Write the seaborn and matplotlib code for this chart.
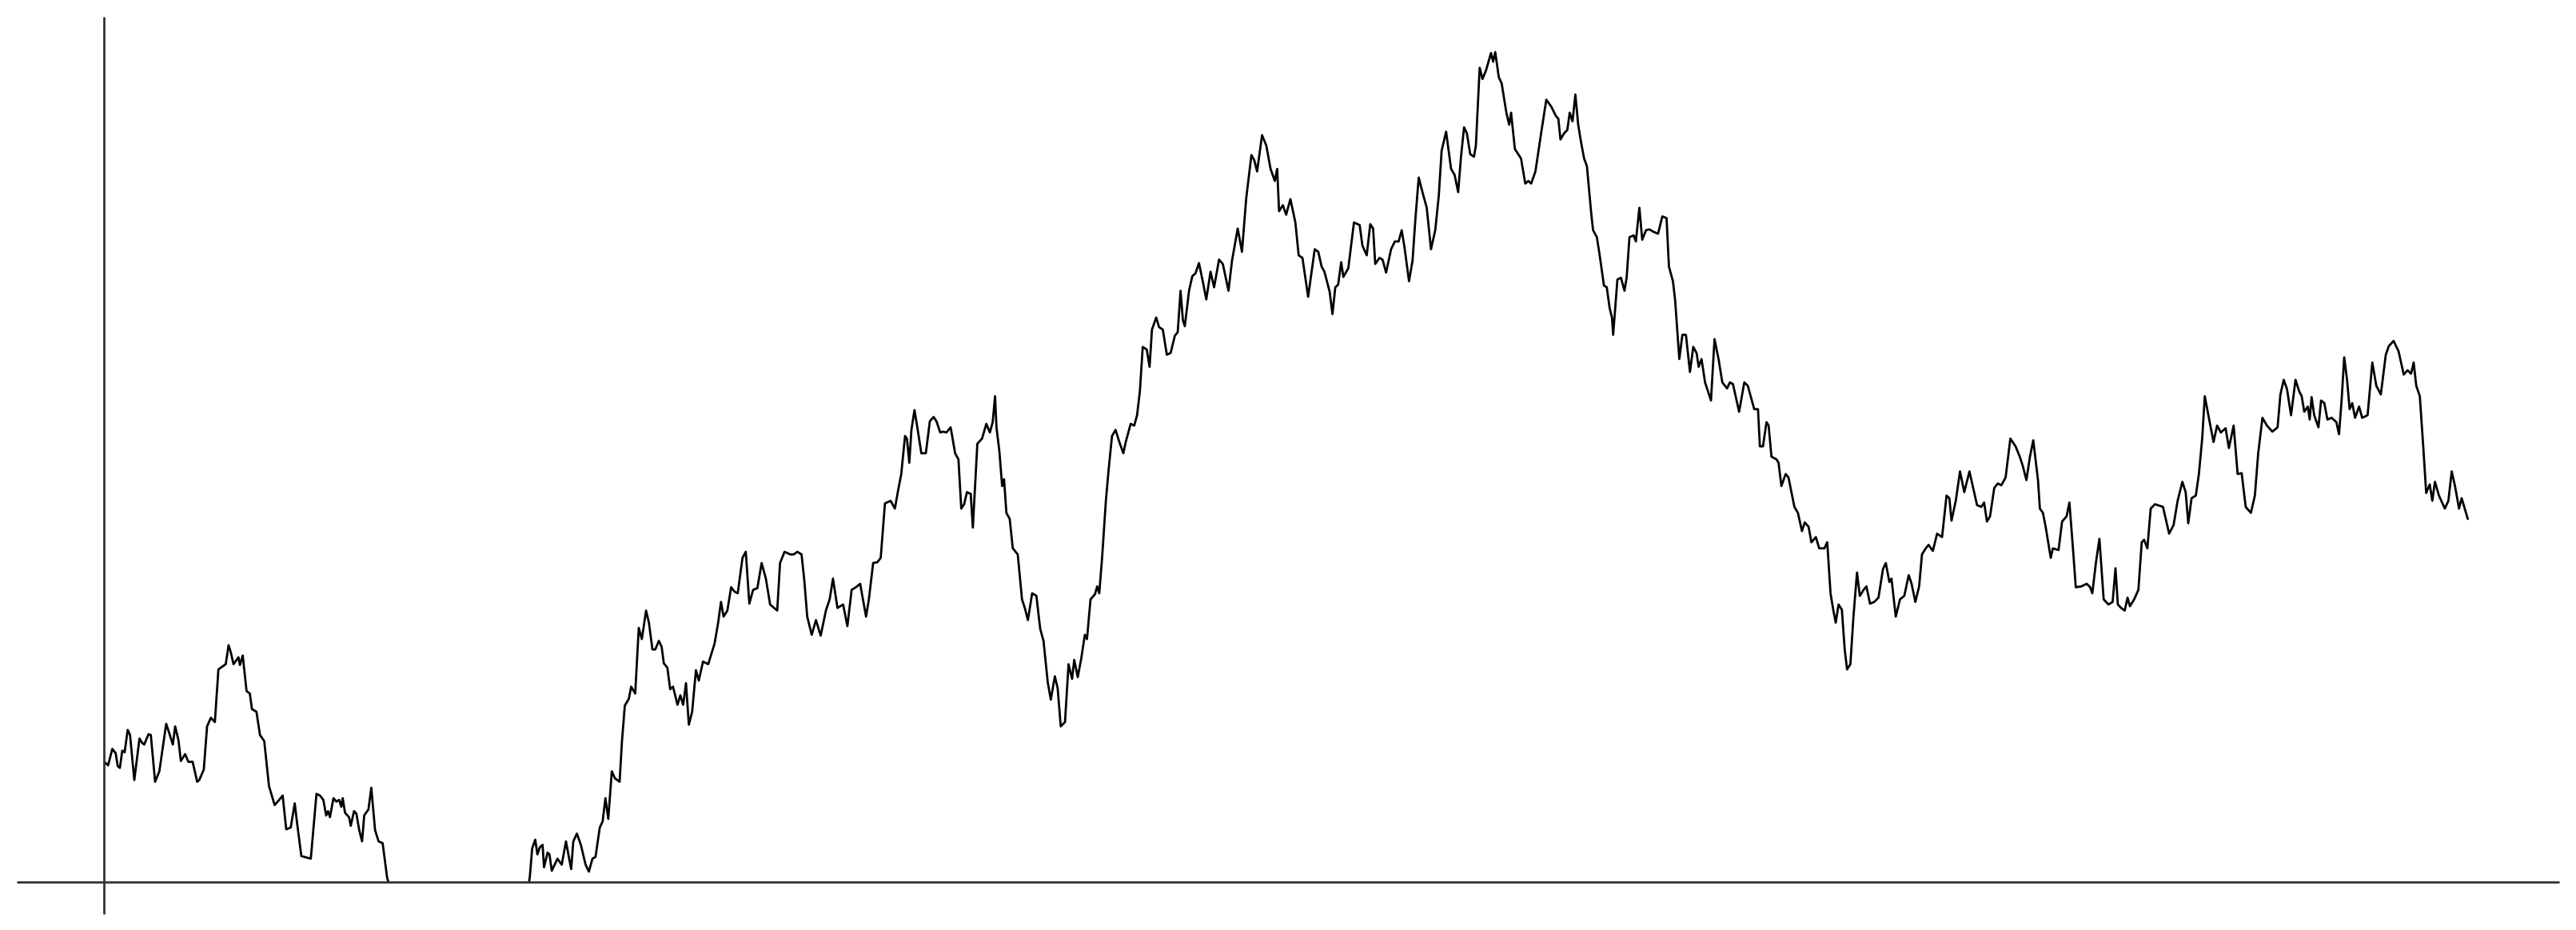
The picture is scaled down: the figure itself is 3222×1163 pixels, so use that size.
import matplotlib
matplotlib.use("Agg")
import matplotlib.pyplot as plt
import seaborn as sns
import pandas as pd

sns.set_style("white")

# random-walk trace (step, level); level 0..100 is the visible band
step = [
    0.3, 1.9, 3.7, 5.1, 6.0, 6.9, 7.9, 8.9, 10.2, 11.2, 13.0, 15.2, 16.3, 17.2, 19.0, 20.0,
    21.8, 23.6, 26.5, 27.7, 29.3, 30.3, 31.7, 32.7, 34.5, 35.9, 37.7, 39.6, 40.5, 42.4, 43.8,
    45.4, 47.1, 48.6, 51.7, 52.9, 53.8, 55.0, 57.1, 57.7, 58.9, 60.5, 61.9, 62.8, 64.7, 66.2,
    68.0, 70.0, 72.4, 74.0, 75.8, 77.3, 79.2, 80.9, 81.9, 83.7, 87.7, 90.1, 91.6, 93.0, 94.2,
    95.0, 95.8, 97.3, 98.5, 99.7, 100.6, 101.2, 102.2, 103.9, 104.6, 106.0, 107.0, 108.2,
    109.4, 110.3, 112.1, 113.3, 114.9, 116.4, 118.1, 120.0,
    122.5, 130.0, 139.0, 148.0, 158.0, 168.0, 176.0, 179.6,
    180.4, 181.4, 182.7, 183.6, 184.6, 185.8, 186.4, 187.9, 188.7, 189.7, 192.1, 193.9, 195.7,
    196.7, 197.9, 198.8, 200.3, 202.0, 204.0, 205.4, 206.9, 208.2, 210.0, 211.2, 212.4, 213.6,
    215.1, 216.4, 218.4, 219.4, 220.6, 222.3, 223.3, 225.0, 226.5, 227.8, 229.6, 230.8, 232.3,
    233.5, 235.0, 236.2, 237.1, 238.6, 239.8, 241.0, 242.9, 244.1, 245.3, 246.5, 247.7, 249.1,
    250.7, 251.9, 253.7, 255.9, 258.6, 260.1, 261.3, 262.4, 264.0, 265.6, 267.0, 268.4, 270.4,
    271.8, 273.3, 274.9, 276.7, 278.5, 280.3, 282.1, 285.1, 286.3, 288.2, 290.6, 292.1, 293.6,
    295.4, 296.6, 297.8, 299.7, 301.5, 303.5, 305.7, 307.3, 308.7, 310.6, 313.0, 314.8, 316.6,
    318.4, 320.2, 322.7, 323.9, 325.7, 327.5,
    328.9, 330.7, 333.1, 334.9, 336.2, 337.6, 339.2, 340.0, 341.0, 341.9, 343.2, 344.4, 346.1,
    348.0, 349.7, 351.3, 352.5, 354.1, 355.3, 356.7, 358.5, 360.4, 361.8, 363.0, 364.2, 365.4,
    367.0, 367.9, 369.8, 371.8, 373.6, 375.1, 376.3, 377.3, 377.9, 379.1, 380.3, 381.1, 382.1,
    383.5, 384.8, 386.9, 388.7, 389.9, 391.2, 393.0, 394.8, 396.4, 397.8, 399.6, 400.9, 402.6,
    403.8, 405.1, 406.9, 408.4, 409.9, 410.8, 412.3, 413.8, 415.3, 416.2, 417.7, 419.6, 420.5,
    421.4, 422.6, 424.2, 425.4, 426.8, 428.3, 429.9, 431.6, 432.6, 434.7, 436.2, 437.4, 438.6,
    439.8, 441.5, 442.7, 443.7, 445.5, 446.7, 448.3, 450.0, 451.6, 453.4, 454.6, 455.8, 456.8,
    457.6, 459.4, 460.8, 462.1, 463.6, 465.2, 466.7, 468.5, 470.0, 472.1, 473.7, 476.1, 477.6,
    480.0, 481.8, 483.6, 485.8, 487.0, 488.2, 490.3, 492.1, 493.9, 495.7, 496.7, 497.5, 499.1,
    500.5, 502.3,
    504.4, 505.8, 507.4, 509.8, 512.6, 514.1, 515.5, 516.7, 518.9, 520.1, 521.3, 522.5, 523.8,
    524.7, 526.8, 529.2, 531.6, 532.8, 534.6, 536.1, 537.3, 538.2, 540.0, 541.3, 542.8, 544.9,
    546.5, 548.1, 549.4, 550.6, 552.5, 554.0, 555.2, 556.6, 558.2, 560.0, 561.8, 563.6, 565.1,
    566.3, 568.2, 570.3, 571.8, 573.3, 574.5, 575.8, 577.0, 578.4, 580.0, 580.8, 582.4, 583.6,
    585.1, 587.2, 588.1, 589.0, 590.5, 591.7, 593.7, 594.9, 595.7, 597.3, 599.9, 601.7, 603.0,
    604.2, 606.0, 608.4, 610.6, 612.7, 614.7, 615.7, 616.6, 618.1, 619.5, 620.5, 621.7, 622.9,
    624.1, 625.3, 626.6, 627.8, 629.6, 630.4, 632.0, 633.2, 635.0, 636.2, 637.4, 638.4, 638.9,
    640.7, 642.2, 643.7, 644.6, 645.8, 647.6, 648.5, 650.0, 651.2, 652.8, 654.2, 656.1, 657.9,
    659.7, 661.5, 662.5, 664.2, 665.1, 666.9, 668.2, 669.7, 671.4, 672.8, 674.2, 675.1, 676.3,
    677.8, 680.3, 681.8, 683.5, 685.1,
    687.1, 688.3, 689.6, 692.2, 694.4, 695.9, 698.6, 700.2, 701.0, 702.3, 703.8, 704.7, 705.9,
    708.0, 708.9, 710.1, 711.9, 713.1, 715.6, 717.1, 718.8, 720.0, 721.6, 722.8, 724.7, 726.1,
    728.3, 729.5, 730.9, 732.1, 733.1, 734.3, 735.7, 736.9, 737.9, 739.3, 740.6, 742.1, 743.3,
    744.9, 746.1, 747.6, 749.4, 751.2, 753.1, 754.3, 755.8, 756.7, 758.5, 760.3, 762.1, 764.0,
    765.2, 766.8, 768.4, 769.6, 771.2, 772.4, 774.2, 776.0, 778.1, 780.0, 781.2, 782.1, 783.9,
    785.7, 787.5, 789.7, 791.1, 792.9, 794.7, 795.9, 797.1, 798.4, 800.2, 801.7, 803.2, 805.0,
    807.0, 809.2, 811.0, 812.2, 813.8, 815.3, 816.7, 818.7, 819.5, 820.8, 822.0, 824.1, 825.0,
    827.4, 828.9, 830.8, 832.0, 833.5, 834.7, 837.1, 839.3, 840.8, 841.7, 843.2, 844.7, 846.5,
    848.5, 850.3, 851.5, 852.5, 853.9, 855.4, 856.6, 857.6, 859.4, 861.2, 862.6, 863.6, 865.0,
    866.4, 868.2,
    871.6, 874.2, 876.1, 877.8, 879.8, 881.2, 882.3, 883.7, 885.5, 886.8, 888.2, 889.3, 891.3,
    893.0, 894.5, 896.1, 898.1, 899.5, 901.5, 903.2, 904.9, 906.6, 908.8, 910.5, 911.9, 913.7,
    915.6, 917.9, 920.1, 921.3, 922.7, 924.1, 925.8, 927.7, 929.2, 930.3, 931.4, 932.9, 933.7,
    934.5, 935.6, 937.4, 938.5, 939.9, 941.2, 943.0, 945.0, 946.1, 947.2, 948.3, 949.5, 950.6,
    951.7, 952.9, 954.6, 955.9, 958.2, 960.2, 961.9, 963.8, 965.9, 967.2, 969.2, 971.3, 973.5,
    975.1, 976.6, 977.7, 978.8, 980.3, 981.7, 983.0, 984.5, 985.6, 986.7, 988.4, 990.9, 992.4,
    993.8, 995.2, 996.9, 998.0, 999.1, 1000.6,
]

level = [
    13.9, 13.5, 15.4, 14.9, 13.4, 13.2, 15.2, 15.0, 17.6, 17.0, 11.8, 16.6, 16.1, 15.9, 17.1, 17.0,
    11.6, 12.8, 18.3, 17.3, 15.9, 18.0, 16.4, 14.0, 14.8, 13.9, 13.9, 11.6, 11.8, 13.0, 18.0,
    19.0, 18.5, 24.6, 25.2, 27.4, 26.6, 25.2, 26.0, 25.1, 26.2, 22.1, 21.8, 20.0, 19.7, 17.0,
    16.3, 11.1, 8.9, 9.4, 10.0, 6.1, 6.3, 9.1, 6.8, 3.0, 2.7, 10.2, 10.0, 9.5, 7.7,
    8.2, 7.5, 9.7, 9.3, 9.5, 8.7, 9.7, 8.0, 7.5, 6.5, 8.2, 7.9, 6.0,
    4.7, 7.7, 8.4, 10.9, 6.0, 4.7, 4.5, 0.5,
    -1.8, -4.2, -2.9, -6.1, -4.4, -5.3, -3.0, -0.8,
    0.6, 3.9, 4.9, 3.2, 4.0, 4.3, 1.7, 3.4, 3.2, 1.3, 2.7, 2.0, 4.7,
    3.2, 1.5, 4.7, 5.6, 4.3, 2.0, 1.2, 2.7, 2.9, 6.3, 7.0, 9.7, 7.3,
    12.8, 12.0, 11.6, 16.3, 20.4, 21.2, 22.6, 21.8, 29.4, 28.1, 31.4, 30.0, 26.9,
    26.9, 27.9, 27.2, 25.3, 24.8, 22.3, 22.6, 20.5, 21.6, 20.5, 23.0, 18.2, 19.7,
    24.5, 23.3, 25.5, 25.2, 27.6, 30.0, 32.4, 30.7, 31.4, 34.1, 33.6, 33.4, 37.5,
    38.2, 32.2, 33.8, 34.0, 36.9, 35.1, 32.1, 31.4, 36.9, 38.2, 37.9, 37.9, 38.2,
    37.9, 34.8, 30.7, 28.6, 30.3, 28.5, 31.4, 32.7, 35.1, 31.7, 32.1, 29.6, 33.8,
    34.1, 34.5, 30.7, 32.7, 36.9, 37.0,
    37.5, 43.8, 44.1, 43.2, 45.2, 47.2, 51.6, 51.3, 48.5, 52.3, 54.6, 52.6, 49.6,
    49.6, 53.3, 53.8, 53.3, 52.0, 52.1, 52.0, 52.6, 49.6, 48.9, 43.2, 43.7, 45.1,
    44.9, 41.0, 50.7, 51.3, 53.0, 52.0, 53.2, 56.2, 52.6, 49.9, 45.8, 46.6, 42.7,
    42.0, 38.6, 37.9, 32.7, 31.7, 30.3, 33.4, 33.1, 29.3, 27.9, 23.1, 21.1, 23.8,
    22.4, 18.0, 18.5, 25.2, 23.5, 25.7, 23.7, 25.9, 28.6, 28.1, 32.7, 33.3, 34.2,
    33.4, 37.5, 44.1, 47.8, 51.6, 52.3, 50.9, 49.6, 50.9, 53.0, 52.8, 54.0, 56.8,
    61.9, 61.6, 59.6, 63.9, 65.3, 64.2, 63.9, 61.0, 61.2, 63.2, 63.6, 68.4, 65.0,
    64.3, 68.4, 70.1, 70.4, 71.6, 69.5, 67.4, 70.6, 68.8, 72.0, 71.5, 68.4, 71.9,
    75.6, 72.9, 79.1, 84.1, 83.5, 82.2, 86.4, 85.2, 82.5, 81.1, 82.5, 77.6, 78.3,
    77.2, 79.0,
    76.3, 72.5, 72.2, 67.7, 73.2, 72.9, 71.2, 70.6, 68.3, 65.7, 68.8, 69.1, 71.7,
    70.0, 71.0, 76.3, 76.0, 73.6, 72.5, 76.1, 75.6, 71.5, 72.2, 72.0, 70.5, 73.2,
    74.1, 74.1, 75.4, 73.4, 69.5, 71.9, 76.7, 81.5, 79.8, 78.0, 73.2, 75.4, 79.4,
    84.6, 86.8, 82.5, 81.8, 79.8, 83.9, 87.3, 86.6, 84.2, 83.9, 85.2, 94.2, 92.9,
    93.9, 95.9, 94.9, 96.0, 93.1, 92.4, 89.0, 87.6, 89.0, 84.8, 83.7, 80.8, 81.1,
    80.8, 82.2, 86.6, 90.5, 89.7, 88.6, 88.3, 85.9, 86.6, 87.0, 89.0, 88.0, 91.1,
    87.6, 85.6, 83.7, 82.8, 77.4, 75.4, 74.6, 72.5, 69.0, 68.8, 66.4, 65.3, 63.3,
    69.7, 69.9, 68.4, 69.9, 74.6, 74.8, 74.1, 78.0, 74.3, 75.4, 75.5, 75.2, 75.0,
    77.0, 76.8, 71.2, 69.5, 67.4, 60.5, 63.3, 63.3, 59.0, 61.9, 61.2, 59.6, 60.5,
    57.8, 55.7, 62.8, 60.5, 57.8,
    57.1, 57.8, 57.6, 54.4, 57.8, 57.4, 54.7, 54.7, 50.4, 50.4, 53.2, 52.8, 49.2,
    48.9, 48.5, 45.8, 47.2, 46.8, 43.4, 42.7, 40.6, 41.6, 41.1, 39.3, 39.9, 38.6,
    38.6, 39.3, 33.4, 31.4, 30.0, 32.1, 31.5, 26.9, 24.6, 25.2, 30.7, 35.8, 33.1,
    33.8, 34.2, 32.2, 32.4, 32.9, 36.2, 36.9, 34.7, 35.1, 30.7, 32.7, 33.1, 35.5,
    34.5, 32.4, 34.2, 37.9, 38.6, 39.0, 38.3, 40.3, 39.9, 44.7, 44.4, 41.8, 44.1,
    47.5, 45.1, 47.5, 45.8, 43.6, 43.4, 43.9, 41.7, 42.3, 45.6, 46.1, 45.9, 46.8,
    51.3, 50.4, 49.2, 48.2, 46.5, 49.2, 51.1, 46.5, 43.2, 42.7, 41.0, 37.5, 38.6,
    38.4, 41.7, 42.3, 43.9, 38.6, 34.1, 34.2, 34.5, 34.1, 33.4, 36.9, 39.7, 32.7,
    32.1, 32.4, 36.3, 32.1, 31.7, 31.4, 32.9, 31.9, 32.7, 33.8, 39.3, 39.6, 38.6,
    43.2, 43.7,
    43.4, 40.3, 41.3, 44.1, 46.3, 45.1, 41.5, 44.4, 44.7, 47.2, 51.3, 56.2, 53.3,
    50.9, 52.8, 52.0, 52.5, 50.2, 52.8, 47.2, 47.3, 43.4, 42.7, 44.7, 49.6, 53.7,
    52.8, 52.1, 52.6, 56.4, 58.1, 57.0, 54.0, 58.1, 56.8, 56.2, 54.4, 55.0, 53.5,
    56.1, 54.0, 52.6, 55.7, 55.4, 53.5, 53.7, 53.2, 51.8, 55.7, 60.7, 58.1, 54.7,
    55.4, 53.7, 55.0, 53.7, 54.0, 60.1, 57.4, 56.4, 61.0, 62.0, 62.6, 61.4, 58.7,
    59.2, 58.8, 60.1, 57.4, 56.2, 50.6, 45.0, 46.0, 44.1, 46.3, 44.7, 43.2, 44.1,
    47.5, 45.8, 43.2, 44.4, 43.4, 42.0,
]

walk = pd.DataFrame({"step": step, "level": level})

fig = plt.figure(figsize=(32.23, 11.63), dpi=100)
ax = fig.add_axes([0.0402, 0.0516, 0.9527, 0.9295])

sns.lineplot(data=walk, x="step", y="level", color="black", linewidth=2.0,
             estimator=None, sort=False, ax=ax)

ax.set_xlim(0, 1039)
ax.set_ylim(0, 100)
for side in ax.spines.values():
    side.set_visible(False)
ax.set_xticks([])
ax.set_yticks([])
ax.set_xlabel("")
ax.set_ylabel("")

# cross-shaped axes through the origin, running a little past it
ax.axhline(0, xmin=-0.035, xmax=1.0, color="#333333", linewidth=2.0, clip_on=False)
ax.axvline(0, ymin=-0.036, ymax=1.0, color="#333333", linewidth=2.0, clip_on=False)

fig.savefig("out.png", dpi=100)
